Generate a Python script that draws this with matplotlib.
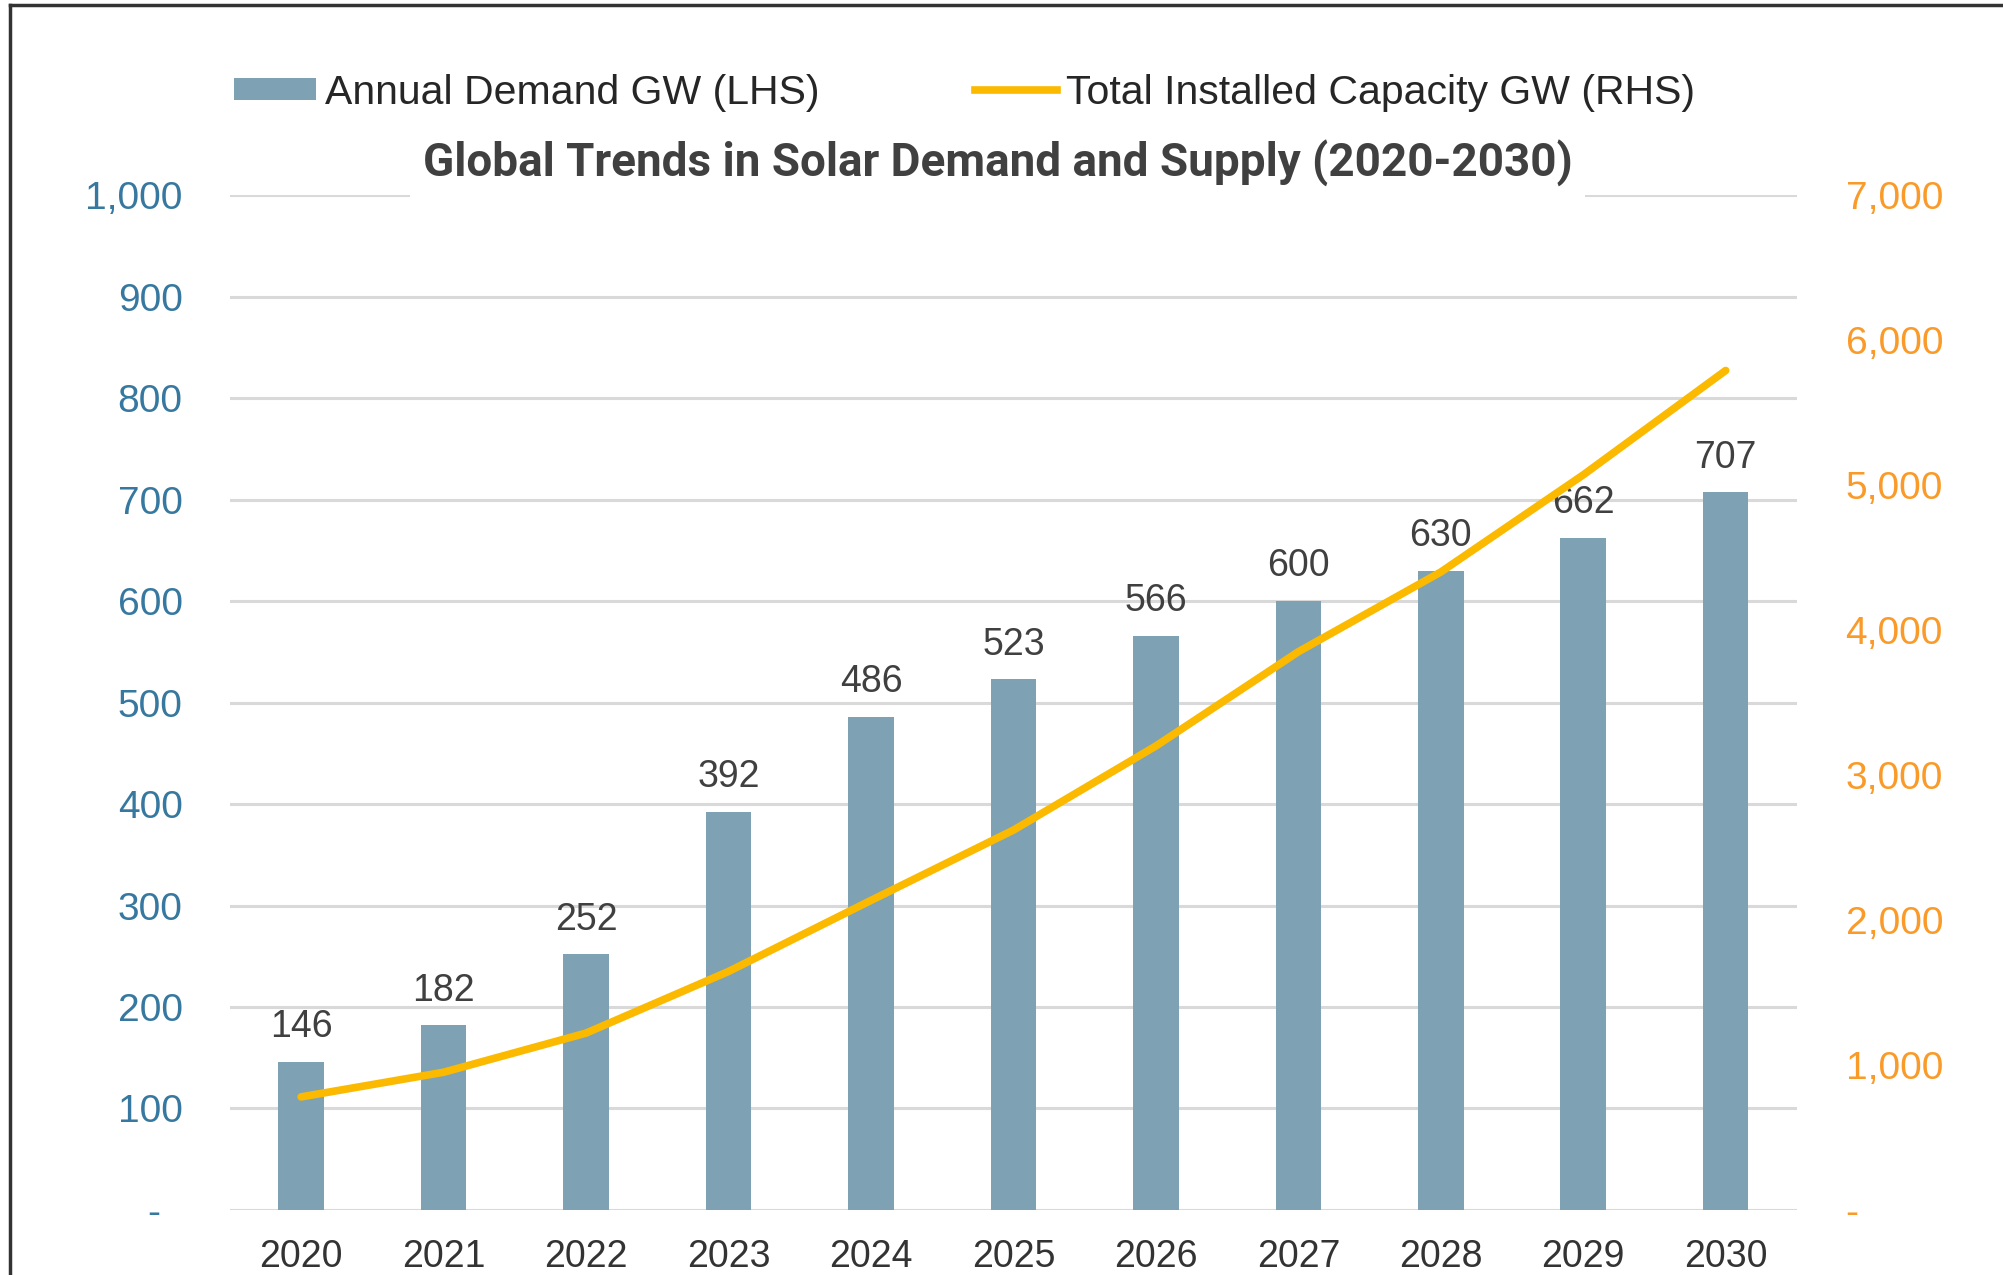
import matplotlib
matplotlib.use("Agg")
import matplotlib.pyplot as plt
from matplotlib.patches import Patch
from matplotlib.lines import Line2D

# ---- data ----
years = ["2020", "2021", "2022", "2023", "2024", "2025", "2026", "2027", "2028", "2029", "2030"]
annual_demand = [146, 182, 252, 392, 486, 523, 566, 600, 630, 662, 707]
installed_capacity = [780, 950, 1220, 1645, 2135, 2620, 3200, 3850, 4400, 5070, 5790]
left_ticks = [0, 100, 200, 300, 400, 500, 600, 700, 800, 900, 1000]
right_ticks = [0, 1000, 2000, 3000, 4000, 5000, 6000, 7000]
title = "Global Trends in Solar Demand and Supply (2020-2030)"
bar_label = "Annual Demand GW (LHS)"
line_label = "Total Installed Capacity GW (RHS)"

bar_color = "#7EA2B4"
line_color = "#FBBA00"
grid_color = "#D9D9D9"
left_tick_color = "#36789F"
right_tick_color = "#FA9A28"

plt.rcParams["font.family"] = ["Liberation Sans", "DejaVu Sans"]

fig = plt.figure(figsize=(20.03, 12.75), dpi=100)
ax = fig.add_axes([0.1148, 0.051, 0.7823, 0.796])

x = list(range(len(years)))
ax.bar(x, annual_demand, width=0.32, color=bar_color, zorder=2)
ax.set_xlim(-0.5, len(years) - 0.5)
ax.set_ylim(0, 1000)
ax.set_yticks(left_ticks)
ax.set_yticklabels(["-  " if v == 0 else f"{v:,}" for v in left_ticks])
ax.set_xticks(x)
ax.set_xticklabels(years)
ax.grid(axis="y", color=grid_color, lw=2.2, zorder=0)
ax.set_axisbelow(True)
for s in ax.spines.values():
    s.set_visible(False)
ax.tick_params(axis="y", length=0, pad=34, labelsize=28, labelcolor=left_tick_color)
ax.tick_params(axis="x", length=0, pad=21, labelsize=27, labelcolor="#333333")

for xi, v in zip(x, annual_demand):
    ax.annotate(str(v), (xi, v), xytext=(0, 12), textcoords="offset points",
                ha="center", va="bottom", fontsize=27, color="#404040")

ax2 = ax.twinx()
ax2.plot(x, installed_capacity, color=line_color, lw=5.5, solid_capstyle="round",
         solid_joinstyle="round", zorder=3)
ax2.set_ylim(0, 7000)
ax2.set_yticks(right_ticks)
ax2.set_yticklabels(["-" if v == 0 else f"{v:,}" for v in right_ticks])
for s in ax2.spines.values():
    s.set_visible(False)
ax2.tick_params(axis="y", length=0, pad=35, labelsize=28, labelcolor=right_tick_color)

# legends
leg_kw = dict(frameon=False, fontsize=29.5, borderpad=0, borderaxespad=0,
              handlelength=2.0, handletextpad=0.22, loc="center left")
fig.legend([Patch(facecolor=bar_color, edgecolor="none")], [bar_label],
           bbox_to_anchor=(0.1168, 0.927), handleheight=0.45, labelcolor="#262626", **leg_kw)
fig.legend([Line2D([], [], color=line_color, lw=5.5)], [line_label],
           bbox_to_anchor=(0.4868, 0.927), labelcolor="#262626", **leg_kw)

# title
fig.text(0.498, 0.872, title, ha="center", va="center", fontsize=33,
         fontweight="bold", family=["Roboto", "DejaVu Sans"], color="#404040",
         bbox=dict(facecolor="white", edgecolor="none", pad=9), zorder=5)

# outer border (left and top)
fig.add_artist(Line2D([0.005, 0.005], [0, 0.996], transform=fig.transFigure, color="#333333", lw=2.5))
fig.add_artist(Line2D([0.005, 1.0], [0.996, 0.996], transform=fig.transFigure, color="#333333", lw=2.5))

fig.savefig("out.png", dpi=100, facecolor="white")
